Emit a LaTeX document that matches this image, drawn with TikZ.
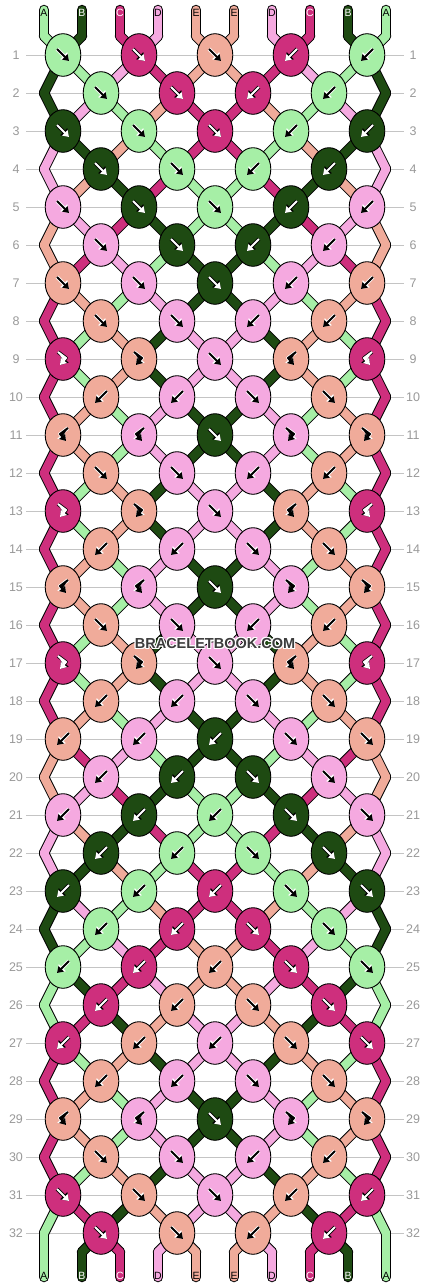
\documentclass[tikz,border=0pt]{standalone}
\usepackage{fontspec}
\setmainfont{Liberation Sans}
\usetikzlibrary{arrows.meta}

\definecolor{colA}{HTML}{A6EFA6}
\definecolor{colB}{HTML}{1E4A12}
\definecolor{colC}{HTML}{CE2F7D}
\definecolor{colD}{HTML}{F5A9E0}
\definecolor{colE}{HTML}{F0AB9A}
\colorlet{txtA}{black}\colorlet{txtB}{white}\colorlet{txtC}{white}
\colorlet{txtD}{black}\colorlet{txtE}{black}
\colorlet{haloA}{white}\colorlet{haloB}{black}\colorlet{haloC}{black}
\colorlet{haloD}{white}\colorlet{haloE}{white}
\definecolor{rulegray}{HTML}{C4C4C4}
\definecolor{numgray}{HTML}{999999}
\definecolor{markgray}{HTML}{3C3C3C}

\newif\ifswap
% letter of the string that lies at each position
\newcommand\setstr[2]{\expandafter\xdef\csname str#1\endcsname{#2}}
\newcommand\getstr[1]{\csname str#1\endcsname}
% x of position #2 in row #1: a knot centre, or the edge
\newcommand\posx[2]{%
  \pgfmathtruncatemacro\rpar{mod(#1,2)}%
  \ifnum\rpar=1
    \pgfmathtruncatemacro\px{76*int((#2+1)/2)-13}%
  \else
    \pgfmathtruncatemacro\px{76*int(#2/2)+25}%
    \ifnum#2=1 \def\px{44}\fi
    \ifnum#2=10 \def\px{386}\fi
  \fi}
% knot types: forward, backward, forward-backward, backward-forward
\def\dof{\let\kc\cleft\swaptrue\def\glyph{(-6,-6) -- (6,6)}}
\def\dob{\let\kc\cright\swaptrue\def\glyph{(6,-6) -- (-6,6)}}
\def\dofb{\let\kc\cleft\swapfalse\def\glyph{(-5,-7) -- (3,-1) -- (-3,6)}}
\def\dobf{\let\kc\cright\swapfalse\def\glyph{(5,-7) -- (-3,-1) -- (3,6)}}
% tie knot #2 of row #1 (type #3): keep its colour, move the strings
\newcommand\knotsim[3]{%
  \pgfmathtruncatemacro\rpar{mod(#1,2)}%
  \pgfmathtruncatemacro\lpos{2*#2-\rpar}%
  \pgfmathtruncatemacro\rpos{\lpos+1}%
  \edef\cleft{\getstr{\lpos}}\edef\cright{\getstr{\rpos}}%
  \csname do#3\endcsname
  \expandafter\xdef\csname kc#1-#2\endcsname{\kc}%
  \ifswap\setstr{\lpos}{\cright}\setstr{\rpos}{\cleft}\fi}
% draw knot #2 of row #1 (type #3)
\newcommand\knotdraw[3]{%
  \pgfmathtruncatemacro\rpar{mod(#1,2)}%
  \pgfmathtruncatemacro\lpos{2*#2-\rpar}%
  \posx{#1}{\lpos}%
  \pgfmathtruncatemacro\ky{55+38*(#1-1)}%
  \csname do#3\endcsname
  \edef\kc{\csname kc#1-#2\endcsname}%
  \filldraw[knot,fill=col\kc] (\px,\ky) ellipse (17.8 and 21.3);
  \draw[glyphhalo,draw=halo\kc,fill=halo\kc,shift={(\px,\ky)}] \glyph;
  \draw[glyphline,draw=txt\kc,fill=txt\kc,shift={(\px,\ky)}] \glyph;}

\def\knotrows{1/{f,f,f,b,b},2/{f,f,b,b},3/{f,f,f,b,b},4/{f,f,b,b},
    5/{f,f,f,b,b},6/{f,f,b,b},7/{f,f,f,b,b},8/{f,f,b,b},
    9/{fb,fb,f,bf,bf},10/{b,b,f,f},11/{bf,bf,f,fb,fb},12/{f,f,b,b},
    13/{fb,fb,f,bf,bf},14/{b,b,f,f},15/{bf,bf,f,fb,fb},16/{f,f,b,b},
    17/{fb,fb,f,bf,bf},18/{b,b,f,f},19/{b,b,b,f,f},20/{b,b,f,f},
    21/{b,b,b,f,f},22/{b,b,f,f},23/{b,b,b,f,f},24/{b,b,f,f},
    25/{b,b,b,f,f},26/{b,b,f,f},27/{b,b,b,f,f},28/{b,b,f,f},
    29/{bf,bf,f,fb,fb},30/{f,f,b,b},31/{f,f,f,b,b},32/{f,f,b,b}}

\begin{document}
\begin{tikzpicture}[x=1pt,y=-1pt,
    knot/.style={draw=black,line width=0.9pt},
    strandedge/.style={draw=black,line width=10.5pt,line cap=round},
    strandfill/.style={line width=8.5pt,line cap=round},
    glyphline/.style={line width=2pt,line join=round,-{Triangle[length=6pt,width=7.5pt]}},
    glyphhalo/.style={line width=3.6pt,line join=round,-{Triangle[length=7.5pt,width=9.5pt]}},
    endlabel/.style={font=\fontsize{10.5}{10.5}\selectfont,inner sep=0pt},
    rownum/.style={font=\fontsize{12.5}{12.5}\selectfont,text=numgray,inner sep=0pt},
    rule/.style={draw=rulegray,line width=0.8pt},
    sitemark/.style={font=\fontsize{14.5}{14.5}\selectfont\bfseries,inner sep=0pt}]
    \useasboundingbox[fill=white] (0,0) rectangle (430,1288);

    % Points where the strings pass, row by row
    \foreach \p in {1,...,10} {
        \pgfmathtruncatemacro\sx{44+38*(\p-1)}
        \coordinate (tip0-\p) at (\sx,10);
        \coordinate (s0-\p) at (\sx,36);
        \coordinate (s33-\p) at (\sx,1252);
        \coordinate (tip33-\p) at (\sx,1277);
        \foreach \r in {1,...,32} {
            \posx{\r}{\p}
            \coordinate (s\r-\p) at (\px,55+38*\r-38);
        }
    }

    % Tie all the knots first, to know the colours
    \foreach \p/\sc in {1/A,2/B,3/C,4/D,5/E,6/E,7/D,8/C,9/B,10/A} {
        \setstr{\p}{\sc}
        \expandafter\xdef\csname seg0-\p\endcsname{\sc}
    }
    \foreach \r/\types in \knotrows {
        \foreach \t [count=\k] in \types {\knotsim{\r}{\k}{\t}}
        \foreach \p in {1,...,10} {\expandafter\xdef\csname seg\r-\p\endcsname{\getstr{\p}}}
    }

    % Row rules and numbers
    \foreach \r in {1,...,32} {
        \draw[rule] (26,55+38*\r-38) -- (404,55+38*\r-38);
        \node[rownum] (numl\r) at (16,55+38*\r-38) {\r};
        \node[rownum] (numr\r) at (413,55+38*\r-38) {\r};
    }

    % Strings: black edges, then the colours
    \foreach \p in {1,...,10} {
        \draw[strandedge] (tip0-\p) -- (s0-\p);
        \draw[strandedge] (s33-\p) -- (tip33-\p);
        \foreach \r in {0,...,32} {
            \pgfmathtruncatemacro\rn{\r+1}
            \draw[strandedge] (s\r-\p) -- (s\rn-\p);
        }
    }
    \foreach \p in {1,...,10} {
        \edef\sc{\csname seg0-\p\endcsname}
        \draw[strandfill,draw=col\sc] (tip0-\p) -- (s0-\p);
        \edef\sc{\csname seg32-\p\endcsname}
        \draw[strandfill,draw=col\sc] (s33-\p) -- (tip33-\p);
        \foreach \r in {0,...,32} {
            \pgfmathtruncatemacro\rn{\r+1}
            \edef\sc{\csname seg\r-\p\endcsname}
            \draw[strandfill,draw=col\sc] (s\r-\p) -- (s\rn-\p);
        }
    }

    % Letters at both ends
    \foreach \p in {1,...,10} {
        \pgfmathtruncatemacro\sx{44+38*(\p-1)}
        \edef\sc{\csname seg0-\p\endcsname}
        \node[endlabel,text=txt\sc] (top\p) at (\sx,13) {\sc};
        \edef\sc{\csname seg32-\p\endcsname}
        \node[endlabel,text=txt\sc] (bot\p) at (\sx,1276) {\sc};
    }

    % Knots
    \foreach \r/\types in \knotrows {
        \foreach \t [count=\k] in \types {\knotdraw{\r}{\k}{\t}}
    }

    % Watermark
    \foreach \dx/\dy in {-1/-1,-1/0,-1/1,0/-1,0/1,1/-1,1/0,1/1}
        \node[sitemark,text=white] at (215+\dx,643+\dy) {BRACELETBOOK.COM};
    \node[sitemark,text=markgray] (site) at (215,643) {BRACELETBOOK.COM};
\end{tikzpicture}
\end{document}
